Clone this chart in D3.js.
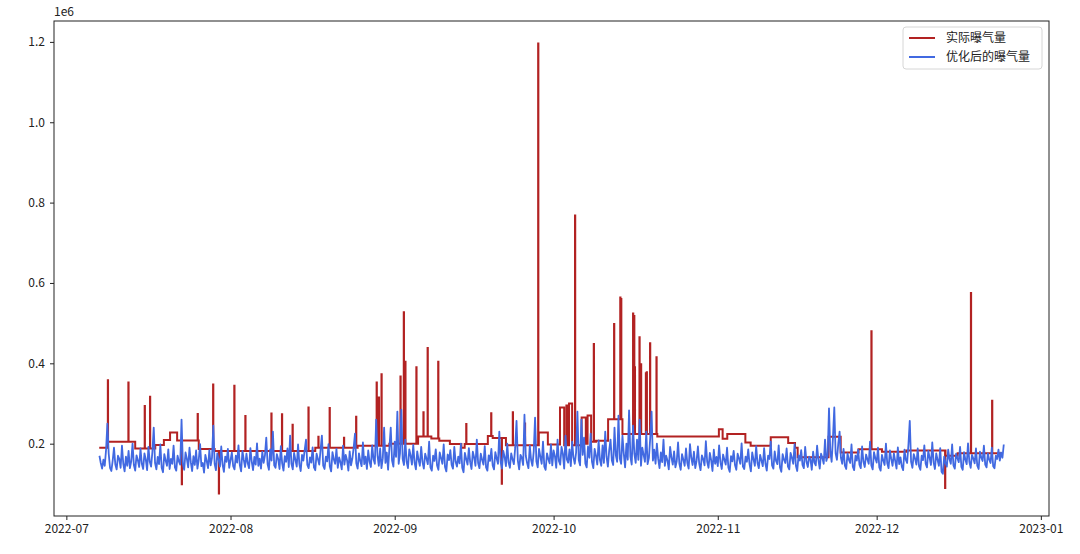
<!DOCTYPE html>
<html>
<head>
<meta charset="utf-8">
<script src="https://cdn.jsdelivr.net/npm/d3@7"></script>
<style>
  body { margin: 0; background: #fff; }
  text { font-family: "Noto Sans CJK SC", "DejaVu Sans", sans-serif; }
</style>
</head>
<body>
<svg id="chart" width="1080" height="554"></svg>
<script>
// series names (legend order)
const seriesNames = ["实际曝气量", "优化后的曝气量"];

// 实际曝气量: step levels [start time, value in thousands]
const actualLevels = [
  ["2022-07-07 05:00", 190], ["2022-07-08 17:00", 205], ["2022-07-14 00:00", 188],
  ["2022-07-17 19:00", 197], ["2022-07-19 10:00", 209], ["2022-07-20 14:00", 228],
  ["2022-07-21 22:00", 208], ["2022-07-26 00:00", 187], ["2022-07-29 00:00", 182],
  ["2022-08-17 00:00", 190], ["2022-08-25 00:00", 195], ["2022-08-31 00:00", 200],
  ["2022-09-05 10:00", 218], ["2022-09-07 22:00", 213], ["2022-09-09 10:00", 207],
  ["2022-09-11 10:00", 199], ["2022-09-13 14:00", 190], ["2022-09-14 05:00", 199],
  ["2022-09-18 14:00", 219], ["2022-09-19 12:00", 214], ["2022-09-22 00:00", 196],
  ["2022-09-28 05:00", 228], ["2022-09-29 22:00", 198], ["2022-10-02 05:00", 290],
  ["2022-10-03 00:00", 196], ["2022-10-03 10:00", 295], ["2022-10-03 19:00", 196],
  ["2022-10-03 22:00", 300], ["2022-10-04 12:00", 196], ["2022-10-06 07:00", 265],
  ["2022-10-07 02:00", 200], ["2022-10-07 10:00", 270], ["2022-10-08 02:00", 205],
  ["2022-10-09 00:00", 207], ["2022-10-11 07:00", 261], ["2022-10-14 00:00", 224],
  ["2022-10-20 14:00", 218], ["2022-11-01 05:00", 236], ["2022-11-01 22:00", 212],
  ["2022-11-02 19:00", 224], ["2022-11-06 05:00", 203], ["2022-11-07 05:00", 195],
  ["2022-11-11 00:00", 216], ["2022-11-14 07:00", 202], ["2022-11-15 14:00", 190],
  ["2022-11-16 02:00", 166], ["2022-11-21 22:00", 217], ["2022-11-24 05:00", 178],
  ["2022-11-27 14:00", 186], ["2022-12-02 00:00", 180], ["2022-12-06 14:00", 183],
  ["2022-12-14 00:00", 170], ["2022-12-16 07:00", 176], ["2022-12-24 14:00", 176]
];

// 实际曝气量: one-hour spikes [time, value in thousands]
const actualSpikes = [
  ["2022-07-08 20:00", 358], ["2022-07-12 17:00", 352], ["2022-07-15 19:00", 294],
  ["2022-07-16 19:00", 317], ["2022-07-22 19:00", 99],  ["2022-07-25 19:00", 274],
  ["2022-07-28 17:00", 347], ["2022-07-29 19:00", 76],  ["2022-08-01 17:00", 344],
  ["2022-08-03 19:00", 269], ["2022-08-08 17:00", 275], ["2022-08-10 17:00", 273],
  ["2022-08-12 17:00", 247], ["2022-08-15 17:00", 290], ["2022-08-17 14:00", 217],
  ["2022-08-19 17:00", 289], ["2022-08-22 10:00", 215], ["2022-08-24 17:00", 267],
  ["2022-08-28 14:00", 352], ["2022-08-29 00:00", 315], ["2022-08-29 12:00", 373],
  ["2022-09-02 02:00", 367], ["2022-09-02 17:00", 527], ["2022-09-03 00:00", 404],
  ["2022-09-05 02:00", 390], ["2022-09-06 10:00", 278], ["2022-09-07 05:00", 438],
  ["2022-09-09 05:00", 404], ["2022-09-14 12:00", 249], ["2022-09-19 05:00", 276],
  ["2022-09-21 05:00", 100], ["2022-09-23 07:00", 278], ["2022-09-25 14:00", 250],
  ["2022-09-28 02:00", 1196], ["2022-10-05 01:00", 768], ["2022-10-08 14:00", 448],
  ["2022-10-12 10:00", 498], ["2022-10-13 14:00", 564], ["2022-10-13 18:00", 560],
  ["2022-10-16 00:00", 524], ["2022-10-16 05:00", 518], ["2022-10-16 08:00", 390],
  ["2022-10-17 05:00", 465], ["2022-10-17 12:00", 398], ["2022-10-18 10:00", 375],
  ["2022-10-18 14:00", 378], ["2022-10-19 05:00", 450], ["2022-10-20 10:00", 415],
  ["2022-11-30 00:00", 480], ["2022-12-13 22:00", 90],  ["2022-12-18 19:00", 575],
  ["2022-12-22 19:00", 307]
];

// 优化后的曝气量: every 6 hours from optStart, value in thousands
const optStart = "2022-07-07 06:00";
const optStepHours = 6;
const optValues = [
  170, 152, 138, 160, 145, 185, 250, 175, 140, 132, 158, 190, 148, 136, 170, 162, 140, 195, 150, 131,
  168, 145, 182, 139, 156, 200, 147, 133, 171, 159, 142, 188, 150, 137, 176, 161, 134, 192, 155, 143,
  180, 240, 152, 136, 167, 149, 198, 140, 129, 174, 158, 145, 186, 137, 162, 150, 195, 141, 133, 170,
  156, 148, 260, 150, 135, 178, 163, 141, 190, 154, 132, 169, 147, 183, 138, 160, 199, 144, 152, 128,
  172, 157, 139, 184, 146, 165, 245, 150, 134, 176, 161, 143, 193, 148, 130, 168, 155, 187, 140, 159,
  178, 144, 136, 170, 153, 196, 147, 131, 182, 160, 142, 175, 151, 139, 189, 156, 134, 167, 148, 201,
  145, 163, 138, 180, 152, 171, 215, 149, 135, 186, 158, 230, 146, 140, 174, 162, 137, 194, 151, 133,
  169, 155, 188, 142, 220, 150, 136, 177, 160, 143, 198, 149, 132, 172, 158, 184, 210, 147, 139, 166,
  153, 191, 141, 134, 175, 162, 148, 185, 220, 145, 137, 168, 156, 199, 143, 131, 179, 161, 150, 187,
  140, 166, 154, 136, 195, 148, 172, 159, 133, 181, 146, 163, 190, 225, 151, 138, 176, 157, 144, 203,
  149, 168, 137, 183, 155, 142, 196, 161, 150, 260, 171, 145, 188, 139, 164, 240, 152, 178, 135, 190,
  240, 158, 143, 205, 167, 280, 150, 176, 285, 162, 147, 210, 155, 139, 186, 171, 148, 197, 153, 136,
  181, 160, 145, 192, 154, 138, 175, 163, 149, 205, 141, 133, 170, 157, 186, 146, 135, 178, 164, 150,
  198, 142, 131, 173, 159, 184, 147, 138, 192, 155, 143, 168, 151, 200, 140, 129, 177, 162, 148, 189,
  154, 137, 180, 166, 145, 210, 152, 139, 175, 160, 148, 194, 141, 133, 171, 157, 187, 146, 136, 179,
  163, 150, 230, 155, 138, 182, 167, 144, 200, 153, 140, 176, 161, 149, 190, 257, 158, 136, 172, 165,
  147, 272, 170, 152, 139, 195, 160, 145, 181, 265, 156, 141, 187, 168, 150, 205, 143, 135, 176, 162,
  151, 198, 146, 183, 169, 140, 210, 157, 148, 192, 175, 138, 220, 161, 153, 186, 144, 205, 166, 150,
  178, 280, 159, 146, 260, 172, 215, 150, 141, 193, 165, 225, 155, 139, 187, 170, 148, 208, 160, 145,
  196, 152, 230, 167, 143, 184, 210, 158, 147, 240, 171, 155, 270, 163, 150, 220, 176, 141, 200, 160,
  283, 168, 148, 245, 175, 152, 210, 160, 260, 145, 190, 172, 155, 230, 149, 165, 215, 280, 158, 185,
  150, 200, 162, 139, 178, 154, 210, 145, 170, 158, 136, 192, 166, 148, 181, 141, 156, 203, 150, 135,
  174, 160, 145, 188, 152, 138, 199, 165, 147, 180, 139, 157, 193, 150, 134, 171, 162, 146, 206, 155,
  140, 177, 159, 132, 185, 150, 167, 144, 196, 154, 137, 173, 160, 148, 190, 141, 130, 169, 156, 182,
  147, 135, 175, 163, 150, 201, 143, 137, 168, 155, 186, 149, 131, 178, 161, 145, 194, 152, 139, 172,
  158, 144, 189, 150, 133, 170, 162, 205, 146, 138, 181, 157, 149, 196, 141, 130, 174, 160, 152, 188,
  143, 136, 177, 165, 150, 199, 145, 132, 171, 158, 184, 147, 139, 192, 155, 142, 168, 161, 135, 180,
  153, 146, 195, 160, 138, 175, 165, 150, 210, 157, 170, 288, 180, 155, 215, 290, 176, 160, 200, 230,
  165, 150, 187, 145, 137, 176, 160, 152, 198, 143, 134, 170, 158, 185, 148, 139, 193, 155, 142, 173,
  161, 150, 205, 146, 136, 179, 164, 153, 190, 141, 133, 172, 158, 147, 200, 151, 139, 183, 162, 145,
  176, 157, 138, 191, 149, 166, 143, 134, 185, 160, 152, 197, 257, 155, 140, 174, 163, 148, 188, 144,
  135, 170, 159, 196, 150, 141, 182, 165, 147, 203, 154, 137, 176, 160, 145, 189, 130, 125, 168, 152,
  143, 185, 161, 150, 198, 146, 138, 175, 164, 154, 192, 142, 135, 179, 160, 149, 201, 155, 140, 172,
  163, 151, 188, 145, 137, 180, 166, 157, 195, 148, 141, 176, 160, 152, 190, 144, 139, 170, 162, 185,
  158, 178, 165, 198
];

const xTickDates = ["2022-07-01", "2022-08-01", "2022-09-01", "2022-10-01", "2022-11-01", "2022-12-01", "2023-01-01"];
const yTickValues = [200000, 400000, 600000, 800000, 1000000, 1200000];

const parseTime = d3.timeParse("%Y-%m-%d %H:%M");
const parseDay = d3.timeParse("%Y-%m-%d");

// build actual series as steps + spikes
const levelPts = actualLevels.map(([t, v]) => ({ t: parseTime(t), v: v * 1000, spike: false }));
const spikePts = actualSpikes.map(([t, v]) => ({ t: parseTime(t), v: v * 1000, spike: true }));
const events = levelPts.concat(spikePts).sort((a, b) => a.t - b.t);
const actual = [];
let level = levelPts[0].v;
events.forEach(e => {
  if (!e.spike) {
    level = e.v;
    actual.push({ t: e.t, v: e.v });
  } else {
    actual.push({ t: e.t, v: e.v });
    actual.push({ t: d3.timeHour.offset(e.t, 1), v: level });
  }
});

const t0 = parseTime(optStart);
const optimized = optValues.map((v, i) => ({ t: d3.timeHour.offset(t0, i * optStepHours), v: v * 1000 }));

// layout
const svg = d3.select("#chart");
const margin = { left: 54, right: 1049, top: 21, bottom: 516 };

const all = actual.concat(optimized);
const tExt = d3.extent(all, d => d.t);
const vExt = d3.extent(all, d => d.v);
const tPad = (tExt[1] - tExt[0]) * 0.05;
const vPad = (vExt[1] - vExt[0]) * 0.05;

const x = d3.scaleTime()
  .domain([new Date(+tExt[0] - tPad), new Date(+tExt[1] + tPad)])
  .range([margin.left, margin.right]);
const y = d3.scaleLinear()
  .domain([vExt[0] - vPad, vExt[1] + vPad])
  .range([margin.bottom, margin.top]);

svg.append("clipPath").attr("id", "plotclip").append("rect")
  .attr("x", margin.left).attr("y", margin.top)
  .attr("width", margin.right - margin.left).attr("height", margin.bottom - margin.top);
const plot = svg.append("g").attr("clip-path", "url(#plotclip)");

plot.append("path")
  .datum(actual)
  .attr("fill", "none")
  .attr("stroke", "#b22222")
  .attr("stroke-width", 2)
  .attr("d", d3.line().x(d => x(d.t)).y(d => y(d.v)).curve(d3.curveStepAfter));

plot.append("path")
  .datum(optimized)
  .attr("fill", "none")
  .attr("stroke", "#4169e1")
  .attr("stroke-width", 1.8)
  .attr("stroke-linejoin", "round")
  .attr("d", d3.line().x(d => x(d.t)).y(d => y(d.v)));

// axes
const xAxis = svg.append("g")
  .attr("transform", `translate(0, ${margin.bottom})`)
  .call(d3.axisBottom(x)
    .tickValues(xTickDates.map(parseDay))
    .tickFormat(d3.timeFormat("%Y-%m"))
    .tickSize(4).tickPadding(4));
const yAxis = svg.append("g")
  .attr("transform", `translate(${margin.left}, 0)`)
  .call(d3.axisLeft(y)
    .tickValues(yTickValues)
    .tickFormat(d => (d / 1e6).toFixed(1))
    .tickSize(4).tickPadding(5));

[xAxis, yAxis].forEach(g => {
  g.select(".domain").remove();
  g.selectAll("text").attr("font-size", 12).attr("fill", "#222")
    .style("font-family", '"Noto Sans CJK SC", sans-serif');
  g.selectAll("line").attr("stroke", "#222");
});

svg.append("rect")
  .attr("x", margin.left).attr("y", margin.top)
  .attr("width", margin.right - margin.left).attr("height", margin.bottom - margin.top)
  .attr("fill", "none").attr("stroke", "#222").attr("stroke-width", 1);

svg.append("text")
  .attr("x", margin.left).attr("y", 16)
  .attr("font-size", 12).attr("fill", "#222")
  .text("1e6");

// legend
const legend = svg.append("g").attr("transform", "translate(903, 27)");
legend.append("rect")
  .attr("width", 139).attr("height", 42).attr("rx", 3)
  .attr("fill", "#fff").attr("fill-opacity", 0.8)
  .attr("stroke", "#d6d6d6");
const legendColors = ["#b22222", "#4169e1"];
seriesNames.forEach((name, i) => {
  const row = legend.append("g").attr("transform", `translate(0, ${11 + i * 19})`);
  row.append("line").attr("x1", 6).attr("x2", 32)
    .attr("stroke", legendColors[i]).attr("stroke-width", 2);
  row.append("text").attr("x", 43).attr("dy", "0.35em")
    .attr("font-size", 12).attr("fill", "#222").text(name);
});
</script>
</body>
</html>
